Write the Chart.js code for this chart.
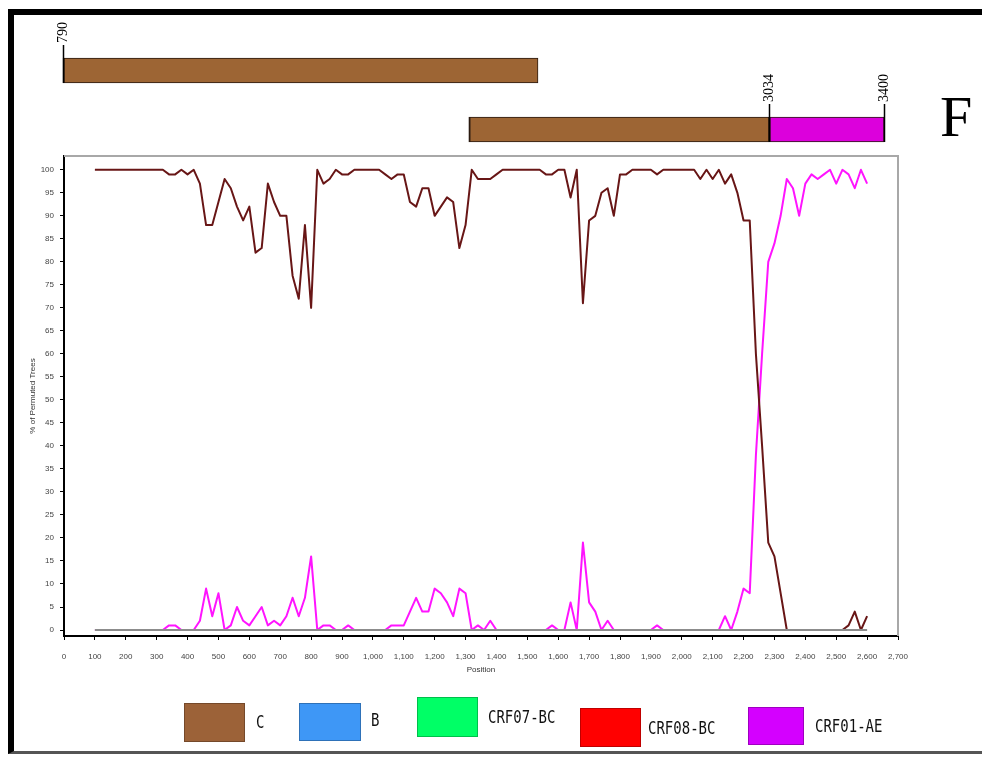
<!DOCTYPE html>
<html>
<head>
<meta charset="utf-8">
<script src="https://cdn.jsdelivr.net/npm/chart.js@4.4.1/dist/chart.umd.min.js"></script>
<style>
  html, body { margin: 0; padding: 0; background: #fff; width: 982px; height: 757px; overflow: hidden; }
  #frame { position: absolute; left: 8px; top: 9px; width: 1000px; height: 736px;
           border-top: 6px solid #000; border-left: 6px solid #000; border-bottom: 3px solid #555; }
  canvas { position: absolute; left: 0; top: 0; }
</style>
</head>
<body>
<div id="frame"></div>
<canvas id="plot" width="982" height="757"></canvas>
<canvas id="segments" width="982" height="160"></canvas>
<script>
// Bootscan window positions (alignment position, step 20)
const positions = [
  100, 120, 140, 160, 180, 200, 220, 240, 260, 280,
  300, 320, 340, 360, 380, 400, 420, 440, 460, 480,
  500, 520, 540, 560, 580, 600, 620, 640, 660, 680,
  700, 720, 740, 760, 780, 800, 820, 840, 860, 880,
  900, 920, 940, 960, 980, 1000, 1020, 1040, 1060, 1080,
  1100, 1120, 1140, 1160, 1180, 1200, 1220, 1240, 1260, 1280,
  1300, 1320, 1340, 1360, 1380, 1400, 1420, 1440, 1460, 1480,
  1500, 1520, 1540, 1560, 1580, 1600, 1620, 1640, 1660, 1680,
  1700, 1720, 1740, 1760, 1780, 1800, 1820, 1840, 1860, 1880,
  1900, 1920, 1940, 1960, 1980, 2000, 2020, 2040, 2060, 2080,
  2100, 2120, 2140, 2160, 2180, 2200, 2220, 2240, 2260, 2280,
  2300, 2320, 2340, 2360, 2380, 2400, 2420, 2440, 2460, 2480,
  2500, 2520, 2540, 2560, 2580, 2600
];

// % of permuted trees supporting subtype C
const subtypeC = [
  100, 100, 100, 100, 100, 100, 100, 100, 100, 100,
  100, 100, 99, 99, 100, 99, 100, 97, 88, 88,
  93, 98, 96, 92, 89, 92, 82, 83, 97, 93,
  90, 90, 77, 72, 88, 70, 100, 97, 98, 100,
  99, 99, 100, 100, 100, 100, 100, 99, 98, 99,
  99, 93, 92, 96, 96, 90, 92, 94, 93, 83,
  88, 100, 98, 98, 98, 99, 100, 100, 100, 100,
  100, 100, 100, 99, 99, 100, 100, 94, 100, 71,
  89, 90, 95, 96, 90, 99, 99, 100, 100, 100,
  100, 99, 100, 100, 100, 100, 100, 100, 98, 100,
  98, 100, 97, 99, 95, 89, 89, 60, 40, 19,
  16, 8, 0, 0, 0, 0, 0, 0, 0, 0,
  0, 0, 1, 4, 0, 3
];

// % of permuted trees supporting CRF01-AE
const crf01AE = [
  0, 0, 0, 0, 0, 0, 0, 0, 0, 0,
  0, 0, 1, 1, 0, 0, 0, 2, 9, 3,
  8, 0, 1, 5, 2, 1, 3, 5, 1, 2,
  1, 3, 7, 3, 7, 16, 0, 1, 1, 0,
  0, 1, 0, 0, 0, 0, 0, 0, 1, 1,
  1, 4, 7, 4, 4, 9, 8, 6, 3, 9,
  8, 0, 1, 0, 2, 0, 0, 0, 0, 0,
  0, 0, 0, 0, 1, 0, 0, 6, 0, 19,
  6, 4, 0, 2, 0, 0, 0, 0, 0, 0,
  0, 1, 0, 0, 0, 0, 0, 0, 0, 0,
  0, 0, 3, 0, 4, 9, 8, 38, 60, 80,
  84, 90, 98, 96, 90, 97, 99, 98, 99, 100,
  97, 100, 99, 96, 100, 97
];

// Remaining reference subtypes stay at zero over the whole window range
const baselineX = [100, 2600];
const baselineY = [0, 0];

const xTicks = [0, 100, 200, 300, 400, 500, 600, 700, 800, 900, 1000, 1100, 1200, 1300,
                1400, 1500, 1600, 1700, 1800, 1900, 2000, 2100, 2200, 2300, 2400, 2500, 2600, 2700];
const yTicks = [0, 5, 10, 15, 20, 25, 30, 35, 40, 45, 50, 55, 60, 65, 70, 75, 80, 85, 90, 95, 100];

const legendLabels = ['C', 'B', 'CRF07-BC', 'CRF08-BC', 'CRF01-AE'];
const legendColors = ['#9c6238', '#3e97f6', '#00ff66', '#ff0000', '#d400ff'];

// Genome segment map (HXB2 coordinates)
const segStart = [790, 2080, 3034];
const segEnd = [2300, 3034, 3400];
const segRow = ['upper', 'lower', 'lower'];
const segColor = ['#9d6534', '#9d6534', '#dc00dc'];
const breakpoints = [790, 3034, 3400];
const breakpointRow = ['upper', 'lower', 'lower'];

Chart.defaults.font.family = "'Liberation Sans', Arial, sans-serif";
Chart.defaults.color = '#444';

const toPoints = (xs, ys) => xs.map((x, i) => ({ x: x, y: ys[i] }));

// Light frame on the top and right of the plotting area
const plotFrame = {
  id: 'plotFrame',
  beforeDatasetsDraw(chart) {
    const { ctx, chartArea: a } = chart;
    ctx.save();
    ctx.strokeStyle = '#a8a8a8';
    ctx.lineWidth = 2;
    ctx.beginPath();
    ctx.moveTo(a.left, a.top);
    ctx.lineTo(a.right, a.top);
    ctx.lineTo(a.right, a.bottom);
    ctx.stroke();
    ctx.restore();
  }
};

// Colour key below the plot
const colourKey = {
  id: 'colourKey',
  afterDraw(chart, args, opts) {
    const { ctx } = chart;
    ctx.save();
    opts.layout.forEach((p, i) => {
      ctx.fillStyle = legendColors[i];
      ctx.fillRect(p.x, p.y, p.w, p.h);
      ctx.strokeStyle = 'rgba(0,0,0,0.25)';
      ctx.lineWidth = 1;
      ctx.strokeRect(p.x + 0.5, p.y + 0.5, p.w - 1, p.h - 1);
      ctx.save();
      ctx.translate(p.tx, p.ty);
      ctx.scale(1, 1.3);
      ctx.fillStyle = '#111';
      ctx.font = '14px "DejaVu Sans Mono", monospace';
      ctx.textAlign = 'left';
      ctx.textBaseline = 'middle';
      ctx.fillText(legendLabels[i], 0, 0);
      ctx.restore();
    });
    ctx.restore();
  }
};

new Chart(document.getElementById('plot'), {
  type: 'line',
  data: {
    datasets: [
      { label: 'baseline', data: toPoints(baselineX, baselineY), borderColor: '#8c8c8c',
        borderWidth: 2, pointRadius: 0 },
      { label: 'C', data: toPoints(positions, subtypeC), borderColor: '#681616',
        borderWidth: 2, pointRadius: 0, tension: 0, borderJoinStyle: 'round' },
      { label: 'CRF01-AE', data: toPoints(positions, crf01AE), borderColor: '#ff14ff',
        borderWidth: 2, pointRadius: 0, tension: 0, borderJoinStyle: 'round' }
    ]
  },
  options: {
    responsive: false,
    animation: false,
    events: [],
    layout: { padding: { top: 156, right: 84, bottom: 81, left: 0 } },
    plugins: {
      legend: { display: false },
      tooltip: { enabled: false },
      colourKey: {
        layout: [
          { x: 184, y: 703, w: 61, h: 39, tx: 256, ty: 723 },
          { x: 299, y: 703, w: 62, h: 38, tx: 371, ty: 721 },
          { x: 417, y: 697, w: 61, h: 40, tx: 488, ty: 718 },
          { x: 580, y: 708, w: 61, h: 39, tx: 648, ty: 729 },
          { x: 748, y: 707, w: 56, h: 38, tx: 815, ty: 727 }
        ]
      }
    },
    scales: {
      x: {
        type: 'linear', min: 0, max: 2700,
        afterBuildTicks: axis => { axis.ticks = xTicks.map(v => ({ value: v })); },
        afterFit: axis => { axis.height = 40; },
        ticks: { font: { size: 8 }, color: '#444', padding: 12, maxRotation: 0, autoSkip: false,
                 callback: v => v.toLocaleString('en-US') },
        grid: { drawOnChartArea: false, drawTicks: true, tickLength: 4, tickColor: '#000' },
        border: { color: '#000', width: 2 },
        title: { display: true, text: 'Position', font: { size: 8 }, color: '#333',
                 padding: { top: 0, bottom: 1 } }
      },
      y: {
        type: 'linear', min: -1.3, max: 103,
        afterBuildTicks: axis => { axis.ticks = yTicks.map(v => ({ value: v })); },
        afterFit: axis => { axis.width = 64; },
        ticks: { font: { size: 8 }, color: '#444', padding: 6, autoSkip: false },
        grid: { drawOnChartArea: false, drawTicks: true, tickLength: 4, tickColor: '#000' },
        border: { color: '#000', width: 2 },
        title: { display: true, text: '% of Permuted Trees', font: { size: 8 }, color: '#333',
                 padding: { top: 28, bottom: 0 } }
      }
    }
  },
  plugins: [plotFrame, colourKey]
});

// Breakpoint ticks, coordinates and panel letter above the segment bars
const breakpointLabels = {
  id: 'breakpointLabels',
  afterDatasetsDraw(chart) {
    const { ctx, scales: { x, y } } = chart;
    const rows = chart.data.labels;
    ctx.save();
    breakpoints.forEach((bp, i) => {
      const px = Math.round(x.getPixelForValue(bp)) + 0.5;
      const cy = y.getPixelForValue(rows.indexOf(breakpointRow[i]));
      const barTop = cy - 12.5;
      ctx.strokeStyle = '#000';
      ctx.lineWidth = 1.5;
      ctx.beginPath();
      ctx.moveTo(px, barTop - 13);
      ctx.lineTo(px, cy + 12.5);
      ctx.stroke();
      ctx.save();
      ctx.translate(px, barTop - 15);
      ctx.rotate(-Math.PI / 2);
      ctx.fillStyle = '#000';
      ctx.font = '14px "Liberation Serif", "Times New Roman", serif';
      ctx.textAlign = 'left';
      ctx.textBaseline = 'middle';
      ctx.fillText(String(bp), 0, 0);
      ctx.restore();
    });
    ctx.fillStyle = '#000';
    ctx.font = '58px "Liberation Serif", "Times New Roman", serif';
    ctx.textAlign = 'left';
    ctx.textBaseline = 'alphabetic';
    ctx.fillText('F', 940, 136);
    ctx.restore();
  }
};

new Chart(document.getElementById('segments'), {
  type: 'bar',
  data: {
    labels: ['upper', 'lower'],
    datasets: [{
      data: segStart.map((s, i) => ({ x: [s, segEnd[i]], y: segRow[i] })),
      backgroundColor: segColor,
      borderColor: '#2a1a10',
      borderWidth: { left: 2, top: 1, right: 1, bottom: 1 },
      borderSkipped: false,
      barThickness: 25,
      grouped: false
    }]
  },
  options: {
    indexAxis: 'y',
    responsive: false,
    animation: false,
    events: [],
    layout: { padding: { top: 41, bottom: 1, left: 0, right: 0 } },
    plugins: { legend: { display: false }, tooltip: { enabled: false } },
    scales: {
      x: { type: 'linear', min: 589.7, max: 3711.5, display: false },
      y: { type: 'category', display: false }
    }
  },
  plugins: [breakpointLabels]
});
</script>
</body>
</html>
